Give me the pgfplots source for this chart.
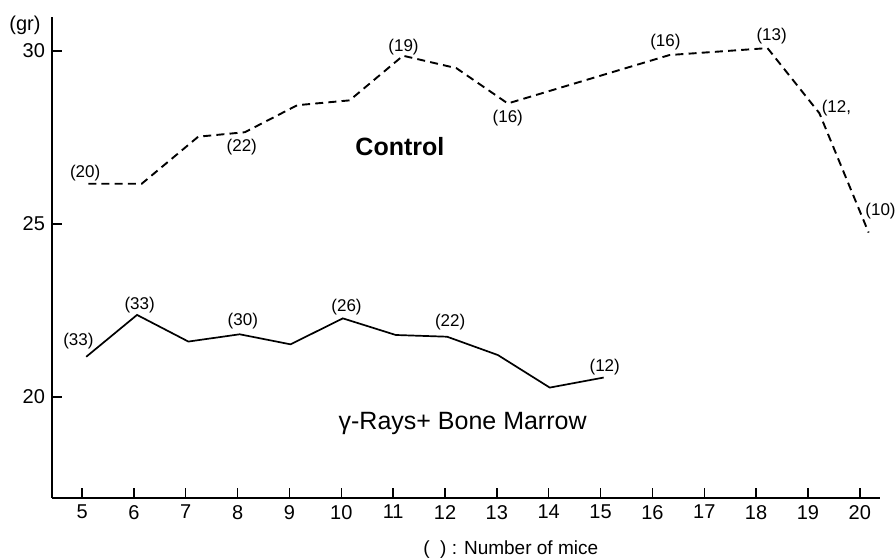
\documentclass[border=0pt]{standalone}
\usepackage{fontspec}
\setmainfont{Liberation Sans}
\usepackage{pgfplots}
\pgfplotsset{compat=1.18}
\begin{document}
\begin{tikzpicture}
\begin{axis}[
 scale only axis, width=414pt, height=240.5pt,
 xmin=4.42, xmax=20.39, ymin=17.08, ymax=30.98,
 axis x line*=bottom, axis y line*=left,
 axis line style={line width=1.1pt,-},
 xtick={5,...,20}, ytick={20,25,30},
 tick align=inside, major tick length=5pt,
 tick style={black, line width=0.7pt},
 ticklabel style={font=\fontsize{10}{11}\selectfont},
 /pgf/number format/assume math mode=true,
 clip=false,
]
\addplot[black, line width=0.95pt, dash pattern=on 4pt off 2.6pt] coordinates {
 (5.12,26.16) (6.15,26.16) (7.24,27.52) (8.14,27.65) (9.15,28.43) (10.16,28.57)
 (11.19,29.86) (12.22,29.50) (13.21,28.48) (16.33,29.88) (18.22,30.08)
 (19.22,28.20) (20.17,24.75)
};
\addplot[black, line width=0.85pt] coordinates {
 (5.08,21.16) (6.06,22.37) (7.05,21.60) (8.04,21.81) (9.02,21.52) (10.03,22.27)
 (11.05,21.79) (12.04,21.74) (13.02,21.21) (14.02,20.27) (15.06,20.56)
};
\begin{scope}[every node/.style={font=\fontsize{8.5}{9}\selectfont, inner sep=0pt}]
\node at (axis cs:5.06,26.47) {(20)};
\node at (axis cs:8.08,27.23) {(22)};
\node at (axis cs:11.2,30.1) {(19)};
\node at (axis cs:13.21,28.05) {(16)};
\node at (axis cs:16.25,30.24) {(16)};
\node at (axis cs:18.3,30.43) {(13)};
\node at (axis cs:19.55,28.34) {(12,};
\node at (axis cs:20.4,25.38) {(10)};
\node at (axis cs:4.93,21.6) {(33)};
\node at (axis cs:6.11,22.66) {(33)};
\node at (axis cs:8.1,22.18) {(30)};
\node at (axis cs:10.1,22.61) {(26)};
\node at (axis cs:12.1,22.15) {(22)};
\node at (axis cs:15.08,20.86) {(12)};
\end{scope}
\node[font=\bfseries\fontsize{12.5}{14}\selectfont] at (axis cs:11.13,27.23) {Control};
\node[font=\fontsize{12.5}{14}\selectfont] at (axis cs:12.34,19.24) {γ-Rays+ Bone Marrow};
\node[font=\fontsize{10}{11}\selectfont] at (rel axis cs:-0.0326,0.983) {(gr)};
\node[font=\fontsize{9.5}{10}\selectfont] at (rel axis cs:0.554,-0.1081) {(\ \ ) : Number of mice};
\coordinate (bl) at (rel axis cs:-0.0628,-0.1247);
\coordinate (tr) at (rel axis cs:1.0181,1.0353);
\end{axis}
\pgfresetboundingbox
\path (bl) rectangle (tr);
\end{tikzpicture}
\end{document}
